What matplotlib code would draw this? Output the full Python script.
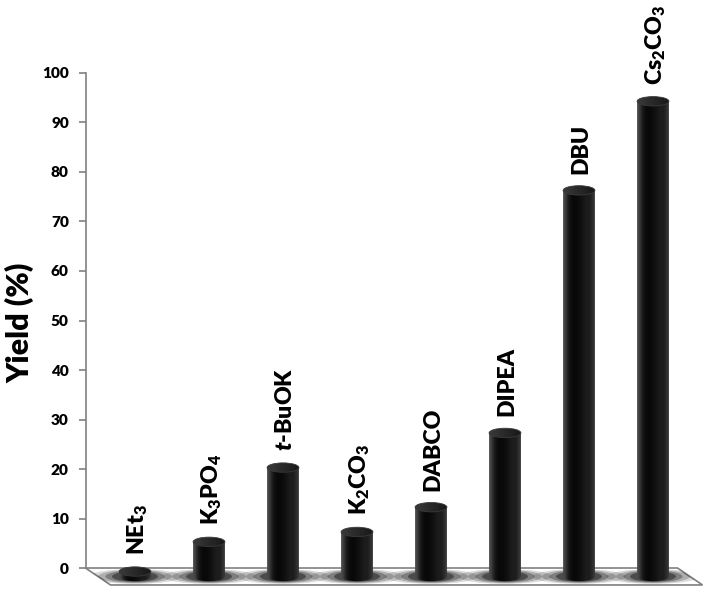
import numpy as np
import matplotlib
matplotlib.use("Agg")
import matplotlib.pyplot as plt
from matplotlib.patches import Polygon, Ellipse

plt.rcParams['font.family'] = ['Lato', 'DejaVu Sans']
plt.rcParams['mathtext.fontset'] = 'custom'
plt.rcParams['mathtext.rm'] = 'Lato:heavy'
plt.rcParams['mathtext.bf'] = 'Lato:heavy'
plt.rcParams['mathtext.it'] = 'Lato:heavy:italic'

# data (yield in %)
bases = ['NEt$_3$', 'K$_3$PO$_4$', '$t$-BuOK', 'K$_2$CO$_3$',
         'DABCO', 'DIPEA', 'DBU', 'Cs$_2$CO$_3$']
yields = [1, 7, 22, 9, 14, 29, 78, 96]
yticks = list(range(0, 101, 10))

# pseudo-3D geometry (data units)
depth_x, depth_y = 0.338, 3.43      # floor depth offset
bar_w, cap_h = 0.43, 1.9            # cylinder width, ellipse height
WEIGHT = 'heavy'

fig = plt.figure(figsize=(7.07, 5.91), dpi=100)
ax = fig.add_axes([0, 0, 1, 1])
renderer = fig.canvas.get_renderer()


def fit_size(text, target_px, size=12, along='width', **kw):
    """font size so that the text spans target_px pixels"""
    t = fig.text(0, 0, text, fontsize=size, fontweight=WEIGHT, **kw)
    bb = t.get_window_extent(renderer)
    t.remove()
    span = bb.width if along == 'width' else bb.height
    return size * target_px / span


tick_size = fit_size('100', 27)
label_size = fit_size('DIPEA', 69, along='height', rotation=90)
ylab_size = fit_size('Yield (%)', 120, along='height', rotation=90)

for s in ['top', 'right', 'bottom']:
    ax.spines[s].set_visible(False)
ax.spines['left'].set_position(('data', -0.5))
ax.spines['left'].set_bounds(0, 100)
ax.spines['left'].set_color('#808080')
ax.spines['left'].set_linewidth(1.2)
ax.set_xticks([])
ax.set_yticks(yticks)
ax.tick_params(axis='y', direction='out', length=5, width=1.2, color='#808080',
               pad=7, labelsize=tick_size)
for lab in ax.get_yticklabels():
    lab.set_fontweight(WEIGHT)
ax.patch.set_visible(False)

# floor
n = len(bases)
floor = Polygon([(-0.5, 0), (n - 0.5, 0), (n - 0.5 + depth_x, -depth_y),
                 (-0.5 + depth_x, -depth_y)], closed=True,
                facecolor='white', edgecolor='#808080', lw=1.2, zorder=1)
ax.add_patch(floor)

grad = np.array([0.30, 0.12, 0.05, 0.03, 0.04, 0.06, 0.09, 0.12, 0.10, 0.22])
grad = np.tile(grad, (2, 1))
cap_grad = np.tile(np.linspace(0.22, 0.10, 10), (2, 1))
t = np.linspace(np.pi, 2 * np.pi, 40)

for i, (name, v) in enumerate(zip(bases, yields)):
    xc = i + depth_x / 2
    base = -depth_y / 2
    top = v - depth_y / 2

    # soft shadow on the floor
    for sw, sh, a in [(1.25, 3.0, 0.14), (1.0, 2.7, 0.2), (0.8, 2.4, 0.28),
                      (0.62, 2.1, 0.4)]:
        ax.add_patch(Ellipse((xc, base), sw, sh, facecolor='black', alpha=a,
                             edgecolor='none', zorder=2, clip_path=floor))

    # cylinder body
    lower = [(xc + bar_w / 2 * np.cos(a), base + cap_h / 2 * np.sin(a)) for a in t]
    verts = [(xc - bar_w / 2, top)] + lower + [(xc + bar_w / 2, top)]
    body = Polygon(verts, closed=True, facecolor='none', edgecolor='none',
                   transform=ax.transData)
    ax.add_patch(body)
    im = ax.imshow(grad, cmap='gray', vmin=0, vmax=1, aspect='auto',
                   extent=[xc - bar_w / 2, xc + bar_w / 2, base - cap_h, top],
                   zorder=3, interpolation='bicubic')
    im.set_clip_path(body)

    # top cap
    cap = Ellipse((xc, top), bar_w, cap_h, facecolor='none', edgecolor='none',
                  transform=ax.transData)
    ax.add_patch(cap)
    imc = ax.imshow(cap_grad, cmap='gray', vmin=0, vmax=1, aspect='auto',
                    extent=[xc - bar_w / 2, xc + bar_w / 2, top - cap_h / 2, top + cap_h / 2],
                    zorder=4, interpolation='bicubic')
    imc.set_clip_path(cap)
    ax.add_patch(Ellipse((xc, top), bar_w, cap_h, facecolor='none',
                         edgecolor='#3a3a3a', lw=0.6, zorder=5))

    ax.text(xc + 0.03, top + cap_h / 2 + 2.4, name, rotation=90, ha='center',
            va='bottom', fontsize=label_size, fontweight=WEIGHT, zorder=6)

ax.set_xlim(-1.6554, 7.8986)
ax.set_ylim(-4.646, 114.747)

fig.text(20 / 707, 1 - 323 / 591, 'Yield (%)', rotation=90, ha='center',
         va='center', fontsize=ylab_size, fontweight=WEIGHT)

fig.savefig('out.png', dpi=100)
